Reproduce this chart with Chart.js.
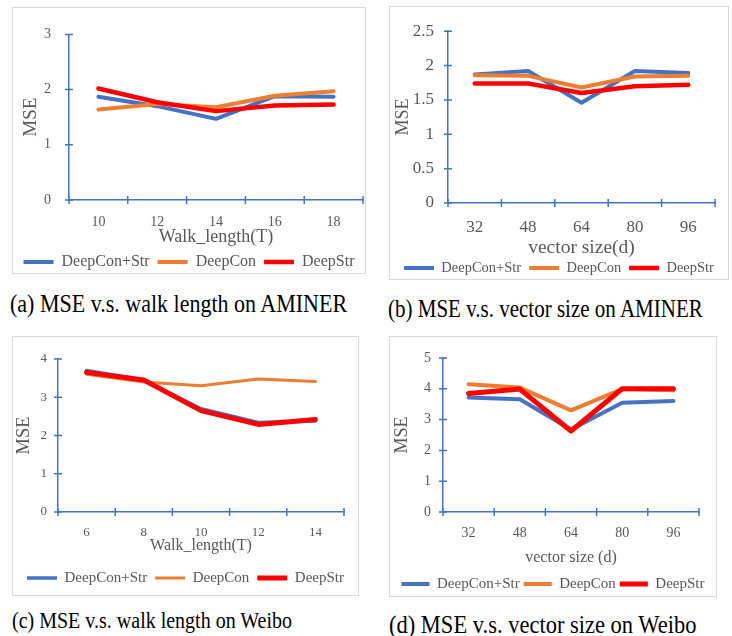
<!DOCTYPE html>
<html>
<head>
<meta charset="utf-8">
<script src="https://cdn.jsdelivr.net/npm/chart.js@4.4.1/dist/chart.umd.min.js"></script>
<style>
  html, body { margin: 0; padding: 0; background: #ffffff; }
  body { width: 732px; height: 636px; position: relative; overflow: hidden; font-family: "Liberation Serif", "Times New Roman", serif; }
  .box { position: absolute; border: 1px solid #d9d9d9; box-sizing: border-box; background: transparent; }
  canvas { position: absolute; }
  .cap { position: absolute; white-space: nowrap; color: #000; line-height: 1; transform: scaleY(1.15); transform-origin: left center; }
</style>
</head>
<body>
<div class="box" id="boxA"></div><canvas id="cA"></canvas>
<div class="box" id="boxB"></div><canvas id="cB"></canvas>
<div class="box" id="boxC"></div><canvas id="cC"></canvas>
<div class="box" id="boxD"></div><canvas id="cD"></canvas>
<div class="cap" id="capA"></div>
<div class="cap" id="capB"></div>
<div class="cap" id="capC"></div>
<div class="cap" id="capD"></div>
<script>
// ---------- DATA ----------
const seriesNames = ['DeepCon+Str', 'DeepCon', 'DeepStr'];

// (a) MSE vs walk length on AMINER
const catA = ['10', '12', '14', '16', '18'];
const aDeepConStr = [1.87, 1.70, 1.47, 1.88, 1.87];
const aDeepCon    = [1.64, 1.74, 1.68, 1.89, 1.97];
const aDeepStr    = [2.02, 1.77, 1.61, 1.71, 1.73];
const yTicksA = [0, 1, 2, 3];

// (b) MSE vs vector size on AMINER
const catB = ['32', '48', '64', '80', '96'];
const bDeepConStr = [1.87, 1.92, 1.46, 1.92, 1.89];
const bDeepCon    = [1.86, 1.85, 1.68, 1.84, 1.85];
const bDeepStr    = [1.74, 1.74, 1.60, 1.70, 1.72];
const yTicksB = [0, 0.5, 1, 1.5, 2, 2.5];

// (c) MSE vs walk length on Weibo
const catC = ['6', '8', '10', '12', '14'];
const cDeepConStr = [3.70, 3.45, 2.70, 2.34, 2.38];
const cDeepCon    = [3.60, 3.40, 3.30, 3.48, 3.41];
const cDeepStr    = [3.65, 3.45, 2.65, 2.29, 2.42];
const yTicksC = [0, 1, 2, 3, 4];

// (d) MSE vs vector size on Weibo
const catD = ['32', '48', '64', '80', '96'];
const dDeepConStr = [3.72, 3.66, 2.68, 3.55, 3.60];
const dDeepCon    = [4.15, 4.04, 3.30, 3.99, 3.95];
const dDeepStr    = [3.85, 3.99, 2.63, 4.00, 4.00];
const yTicksD = [0, 1, 2, 3, 4, 5];

const captions = [
  '(a) MSE v.s. walk length on AMINER',
  '(b) MSE v.s. vector size on AMINER',
  '(c) MSE v.s. walk length on Weibo',
  '(d) MSE v.s. vector size on Weibo'
];

// ---------- STYLE ----------
const COLORS = ['#4472C4', '#ED7D31', '#FF0000'];
const AXIS = '#4472C4';
const TEXT = '#595959';
const FAMILY = '"Liberation Serif", "Times New Roman", serif';

const crossTicks = {
  id: 'crossTicks',
  beforeDatasetsDraw(chart) {
    const { ctx } = chart;
    const x = chart.scales.x, y = chart.scales.y;
    const len = 4;
    ctx.save();
    ctx.strokeStyle = AXIS;
    ctx.lineWidth = 1.5;
    ctx.beginPath();
    for (let i = 0; i <= x.ticks.length; i++) {
      const px = x.getPixelForValue(i - 0.5);
      ctx.moveTo(px, y.bottom - len);
      ctx.lineTo(px, y.bottom + len);
    }
    y.ticks.forEach(t => {
      const py = y.getPixelForValue(t.value);
      ctx.moveTo(x.left - len, py);
      ctx.lineTo(x.left + len, py);
    });
    ctx.stroke();
    ctx.restore();
  }
};

function makePanel(o) {
  const box = document.getElementById(o.boxId);
  box.style.left = o.box[0] + 'px';
  box.style.top = o.box[1] + 'px';
  box.style.width = o.box[2] + 'px';
  box.style.height = o.box[3] + 'px';
  const W = o.box[2] - 2, H = o.box[3] - 2;
  const cv = document.getElementById(o.canvasId);
  cv.width = W; cv.height = H;
  cv.style.left = (o.box[0] + 1) + 'px';
  cv.style.top = (o.box[1] + 1) + 'px';
  cv.style.width = W + 'px'; cv.style.height = H + 'px';

  const lp = o.legendPad;
  const padBottom = H - o.legendCenter - o.legendFont / 2 - 10;
  const legendTop = H - padBottom - (o.legendFont + lp + 10);
  const xAxisH = legendTop - o.plotBottom;
  const xTitlePadB = legendTop - o.xTitleCenter - 0.6 * o.xTitleFont;
  const xTickPad = o.xTickCenter - o.plotBottom - 0.6 * o.tickFont;
  const yTitlePad = o.yTitleCenter - 0.6 * o.yTitleFont;
  const yTickPad = o.plotLeft - o.yLabelRight;

  new Chart(cv, {
    type: 'line',
    data: {
      labels: o.labels,
      datasets: o.series.map((s, i) => ({
        label: seriesNames[i],
        data: s,
        borderColor: COLORS[i],
        backgroundColor: COLORS[i],
        borderWidth: o.widths[i],
        pointRadius: 0,
        pointHoverRadius: 0,
        tension: 0,
        fill: false,
        order: 3 - i,
        borderCapStyle: 'round',
        borderJoinStyle: 'round',
        yAxisID: 'y'
      }))
    },
    options: {
      responsive: false,
      animation: false,
      events: [],
      layout: { padding: { left: 0, right: 0, top: o.padTop, bottom: padBottom } },
      plugins: {
        legend: {
          position: 'bottom',
          labels: {
            usePointStyle: true,
            pointStyle: 'line',
            pointStyleWidth: o.legendBox,
            padding: lp,
            color: TEXT,
            font: { family: FAMILY, size: o.legendFont },
            sort: (a, b) => a.datasetIndex - b.datasetIndex
          }
        },
        tooltip: { enabled: false }
      },
      scales: {
        x: {
          type: 'category',
          offset: true,
          grid: { display: false, drawTicks: false, offset: true },
          border: { display: true, color: AXIS, width: 1.5 },
          ticks: { color: TEXT, font: { family: FAMILY, size: o.tickFont }, padding: xTickPad, maxRotation: 0, autoSkip: false },
          title: { display: true, text: o.xTitle, color: TEXT, font: { family: FAMILY, size: o.xTitleFont }, padding: { top: 0, bottom: xTitlePadB } },
          afterFit: s => { s.height = xAxisH; }
        },
        y: {
          min: o.yTicks[0],
          max: o.yTicks[o.yTicks.length - 1],
          grid: { display: false, drawTicks: false },
          border: { display: true, color: AXIS, width: 1.5 },
          ticks: { color: TEXT, font: { family: FAMILY, size: o.tickFont }, padding: yTickPad, callback: v => String(v) },
          afterBuildTicks: s => { s.ticks = o.yTicks.map(v => ({ value: v })); },
          title: { display: true, text: 'MSE', color: TEXT, font: { family: FAMILY, size: o.yTitleFont }, padding: { top: yTitlePad, bottom: 0 } },
          afterFit: s => { s.width = o.plotLeft; }
        },
        // empty right-hand spacer so the plot ends where the reference's does
        yRight: {
          type: 'linear',
          position: 'right',
          display: true,
          grid: { display: false, drawTicks: false },
          border: { display: false },
          ticks: { display: false },
          title: { display: false },
          afterFit: s => { s.width = o.padRight; }
        }
      }
    },
    plugins: [crossTicks]
  });
}

makePanel({
  boxId: 'boxA', canvasId: 'cA', box: [12, 7, 354, 267],
  labels: catA, series: [aDeepConStr, aDeepCon, aDeepStr], yTicks: yTicksA,
  xTitle: 'Walk_length(T)', widths: [4, 4, 4.5],
  plotLeft: 56, padRight: 2, padTop: 13, plotBottom: 192,
  yLabelRight: 38, yTitleCenter: 18, xTickCenter: 214, xTitleCenter: 229, legendCenter: 254,
  tickFont: 14, xTitleFont: 18, yTitleFont: 19, legendFont: 16, legendBox: 30, legendPad: 8
});

makePanel({
  boxId: 'boxB', canvasId: 'cB', box: [389, 6, 340, 274],
  labels: catB, series: [bDeepConStr, bDeepCon, bDeepStr], yTicks: yTicksB,
  xTitle: 'vector size(d)', widths: [4, 4, 4.5],
  plotLeft: 58, padRight: 13, padTop: 14, plotBottom: 196,
  yLabelRight: 44, yTitleCenter: 13, xTickCenter: 221, xTitleCenter: 241, legendCenter: 261,
  tickFont: 17, xTitleFont: 19.5, yTitleFont: 18, legendFont: 14.5, legendBox: 30, legendPad: 8
});

makePanel({
  boxId: 'boxC', canvasId: 'cC', box: [12, 336, 347, 260],
  labels: catC, series: [cDeepConStr, cDeepCon, cDeepStr], yTicks: yTicksC,
  xTitle: 'Walk_length(T)', widths: [3.5, 3, 5],
  plotLeft: 45, padRight: 14, padTop: 22, plotBottom: 175,
  yLabelRight: 34, yTitleCenter: 11, xTickCenter: 196, xTitleCenter: 209, legendCenter: 241,
  tickFont: 13, xTitleFont: 16, yTitleFont: 18.5, legendFont: 15, legendBox: 30, legendPad: 8
});

makePanel({
  boxId: 'boxD', canvasId: 'cD', box: [389, 336, 328, 261],
  labels: catD, series: [dDeepConStr, dDeepCon, dDeepStr], yTicks: yTicksD,
  xTitle: 'vector size (d)', widths: [4, 4, 5],
  plotLeft: 53, padRight: 17, padTop: 21, plotBottom: 175,
  yLabelRight: 41, yTitleCenter: 12, xTickCenter: 196, xTitleCenter: 221, legendCenter: 247,
  tickFont: 14, xTitleFont: 16, yTitleFont: 18, legendFont: 15, legendBox: 28, legendPad: 4
});

// captions
const capSpecs = [
  ['capA', 10, 304, 22],
  ['capB', 388, 309, 21],
  ['capC', 12, 620, 20],
  ['capD', 389, 625, 22.5]
];
capSpecs.forEach((c, i) => {
  const el = document.getElementById(c[0]);
  el.textContent = captions[i];
  el.style.left = c[1] + 'px';
  el.style.top = (c[2] - c[3] / 2) + 'px';
  el.style.fontSize = c[3] + 'px';
});
</script>
</body>
</html>
